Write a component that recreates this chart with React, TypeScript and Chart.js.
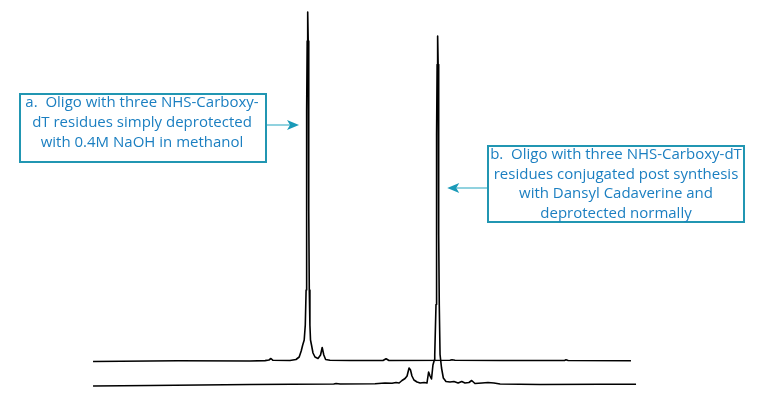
import React, { useEffect, useRef } from "react";
import { Chart, registerables } from "chart.js";

Chart.register(...registerables);

// Retention time (min) and detector response (arbitrary units) — trace a
const RT_A = [0, 4.7, 8.67, 9.5, 9.72, 9.83, 9.94, 10.88, 11.214, 11.39, 11.501, 11.584, 11.667, 11.727, 11.772, 11.794, 11.81, 11.832, 11.86, 11.888, 11.91, 11.926, 11.948, 11.982, 12.015, 12.07, 12.153, 12.263, 12.429, 12.57, 12.66, 12.75, 12.85, 13.09, 14.2, 16.02, 16.19, 16.35, 19.72, 19.83, 20.0, 22.49, 26.05, 26.13, 26.25, 29.72];
const SIG_A = [-0.5, 0.2, 0, 0.4, 1, 2.5, 0.7, 0.5, 1.5, 4, 10, 16, 21, 36, 71, 150, 250, 320, 349, 320, 250, 150, 71, 36, 21, 16, 8, 4, 2.5, 6, 13.5, 6, 1.5, 0.7, 0.5, 0.5, 2.3, 0.5, 0.7, 1.2, 0.7, 0.5, 0.5, 1.2, 0.5, 0.2];

// trace b
const RT_B = [0, 3.15, 8.67, 13.3, 13.43, 13.65, 15.58, 16.13, 16.52, 16.74, 16.91, 17.07, 17.24, 17.35, 17.46, 17.54, 17.62, 17.73, 17.9, 18.07, 18.29, 18.45, 18.54, 18.62, 18.7, 18.78, 18.857, 18.879, 18.949, 18.973, 18.989, 19.011, 19.039, 19.067, 19.089, 19.105, 19.129, 19.172, 19.254, 19.354, 19.5, 19.72, 19.94, 20.17, 20.37, 20.55, 20.77, 20.92, 21.1, 21.49, 21.82, 22.15, 22.49, 24.7, 28.01, 30.0];
const SIG_B = [-1.5, -1, 0, 0.5, 1, 0.5, 0.8, 1.5, 1.2, 2, 1.5, 4, 6, 8.5, 16.5, 14.5, 8.5, 4.5, 2.5, 1.5, 2, 1.5, 12.5, 8.5, 5.5, 19.5, 24.5, 30, 80, 150, 250, 320, 348.5, 320, 250, 150, 80, 30, 16.5, 6.5, 3, 2.5, 3, 1.5, 3, 1.5, 2, 4, 1, 1.5, 2, 1.5, 0.5, 0, 0.2, 0.2];

// vertical display offsets of the stacked traces
const OFFSET_A = 35;
const OFFSET_B = 11.5;

const LABEL_A = ["a.  Oligo with three NHS-Carboxy-", "dT residues simply deprotected", "with 0.4M NaOH in methanol"];
const LABEL_B = ["b.  Oligo with three NHS-Carboxy-dT", "residues conjugated post synthesis", "with Dansyl Cadaverine and", "deprotected normally"];

const TEXT_COLOR = "#1b7fc1";
const BORDER_COLOR = "#2196b2";
const ARROW_LINE = "#6cc3d5";
const ARROW_HEAD = "#1a9ab8";

type Box = { left: number; top: number; right: number; bottom: number; lines: string[]; cx: number; firstY: number; step: number; from: { x: number; y: number }; tip: { x: number; y: number } };

const annotationPlugin = {
  id: "calloutBoxes",
  afterDraw(chart: any, _args: any, opts: any) {
    const ctx = chart.ctx as CanvasRenderingContext2D;
    const xs = chart.scales.x;
    const ys = chart.scales.y;
    (opts.boxes as Box[]).forEach((b) => {
      ctx.save();
      ctx.strokeStyle = BORDER_COLOR;
      ctx.lineWidth = 2;
      ctx.strokeRect(b.left + 1, b.top + 1, b.right - b.left - 2, b.bottom - b.top - 2);
      ctx.fillStyle = TEXT_COLOR;
      ctx.font = "15px 'Open Sans'";
      ctx.textAlign = "center";
      ctx.textBaseline = "middle";
      b.lines.forEach((l, i) => ctx.fillText(l, b.cx, b.firstY + i * b.step));
      // arrow
      const tx = xs.getPixelForValue(b.tip.x);
      const ty = ys.getPixelForValue(b.tip.y);
      const fx = b.from.x;
      const fy = b.from.y;
      const dir = Math.sign(tx - fx);
      const headLen = 12;
      const half = 5;
      const notch = 3;
      ctx.strokeStyle = ARROW_LINE;
      ctx.lineWidth = 1.5;
      ctx.beginPath();
      ctx.moveTo(fx, fy);
      ctx.lineTo(tx - dir * (headLen - notch), ty);
      ctx.stroke();
      ctx.fillStyle = ARROW_HEAD;
      ctx.beginPath();
      ctx.moveTo(tx, ty);
      ctx.lineTo(tx - dir * headLen, ty - half);
      ctx.lineTo(tx - dir * (headLen - notch), ty);
      ctx.lineTo(tx - dir * headLen, ty + half);
      ctx.closePath();
      ctx.fill();
      ctx.restore();
    });
  },
};

export default function App() {
  const ref = useRef<HTMLCanvasElement | null>(null);
  useEffect(() => {
    if (!ref.current) return;
    const dataA = RT_A.map((t, i) => ({ x: t, y: SIG_A[i] + OFFSET_A }));
    const dataB = RT_B.map((t, i) => ({ x: t, y: SIG_B[i] + OFFSET_B }));
    const chart = new Chart(ref.current, {
      type: "line",
      data: {
        datasets: [
          { label: "a", data: dataA, borderColor: "#000", borderWidth: 1.6, pointRadius: 0, tension: 0, fill: false, borderJoinStyle: "round" },
          { label: "b", data: dataB, borderColor: "#000", borderWidth: 1.6, pointRadius: 0, tension: 0, fill: false, borderJoinStyle: "round" },
        ],
      },
      options: {
        animation: false,
        responsive: true,
        maintainAspectRatio: false,
        layout: { padding: 0 },
        scales: {
          x: { type: "linear", min: -5.14, max: 37.07, display: false },
          y: { type: "linear", min: 0, max: 396, display: false },
        },
        plugins: {
          legend: { display: false },
          tooltip: { enabled: false },
          calloutBoxes: {
            boxes: [
              { left: 19, top: 93, right: 267, bottom: 163, lines: LABEL_A, cx: 142, firstY: 103, step: 20, from: { x: 267, y: 125 }, tip: { x: 11.38, y: 271 } },
              { left: 487, top: 145, right: 745, bottom: 223, lines: LABEL_B, cx: 616, firstY: 155, step: 19.6, from: { x: 487, y: 188 }, tip: { x: 19.57, y: 208 } },
            ],
          },
        } as any,
      },
      plugins: [annotationPlugin],
    });
    return () => chart.destroy();
  }, []);
  return (
    <div style={{ position: "fixed", left: 0, top: 0, width: 764, height: 396, background: "#fff" }}>
      <canvas ref={ref} />
    </div>
  );
}
